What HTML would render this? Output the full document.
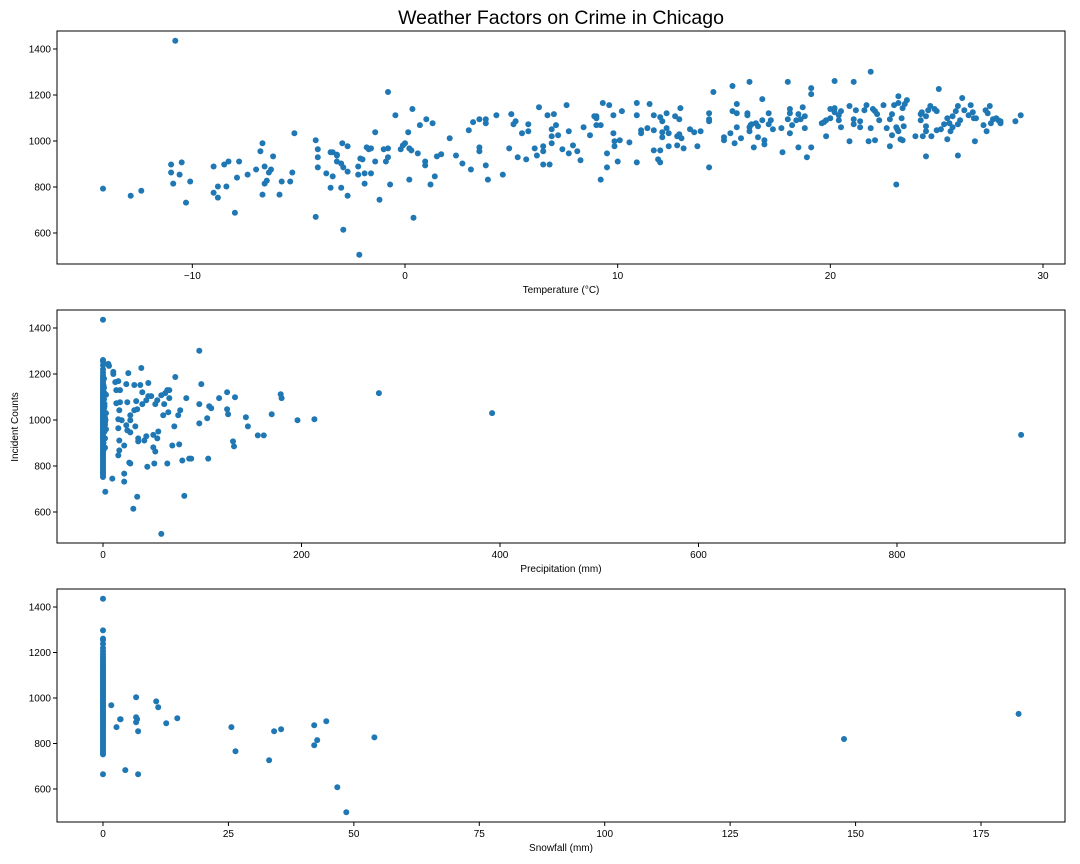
<!DOCTYPE html>
<html><head><meta charset="utf-8"><style>
html,body{margin:0;padding:0;background:#fff;}
svg{display:block;font-family:"Liberation Sans",sans-serif;}
</style></head><body>
<svg id="chart" width="1080" height="864" viewBox="0 0 1080 864" xmlns="http://www.w3.org/2000/svg">
<rect width="1080" height="864" fill="#fff"/>
<text x="561" y="24" text-anchor="middle" font-size="19.5">Weather Factors on Crime in Chicago</text>
<text transform="translate(18,427) rotate(-90)" text-anchor="middle" font-size="10">Incident Counts</text>
</svg>
<script>
const tempVals=[-14.2,-12.9,-12.4,-10.8,-11.0,-11.0,-10.9,-10.5,-10.6,-10.3,-10.1,-9.0,-9.0,-8.8,-8.8,-8.5,-8.4,-8.3,-8.0,-7.9,-7.8,-7.4,-7.0,-6.8,-6.7,-6.7,-6.6,-6.6,-6.5,-6.4,-6.3,-6.2,-5.9,-5.8,-5.4,-5.3,-5.2,-4.2,-4.2,-4.1,-4.1,-4.1,-3.7,-3.5,-3.5,-3.4,-3.4,-3.2,-3.2,-3.2,-3.0,-2.95,-3.0,-2.9,-2.9,-2.7,-2.7,-2.7,-2.2,-2.2,-2.15,-2.1,-2.0,-1.9,-1.9,-1.8,-1.7,-1.6,-1.6,-1.4,-1.4,-1.2,-1.0,-0.9,-0.8,-0.8,-0.8,-0.7,-0.45,
-0.2,-0.1,0.0,0.15,0.2,0.3,0.2,0.35,0.4,0.6,0.7,0.95,0.95,1.0,1.2,1.3,1.4,1.5,1.7,2.1,2.4,2.7,3.0,3.1,3.2,3.5,3.5,3.5,3.8,3.8,3.8,3.9,4.3,4.6,4.9,5.0,5.1,5.2,5.3,5.5,5.7,5.8,5.8,6.1,6.2,6.3,6.5,6.5,6.5,6.7,6.8,6.9,6.9,6.9,7.0,7.1,7.2,7.4,7.6,7.7,7.7,7.9,8.1,8.25,8.4,8.7,8.9,9.0,9.0,9.0,9.2,9.2,9.3,9.5,9.5,9.6,9.8,9.8,9.85,9.85,10.0,10.1,10.2,10.55,10.9,10.9,10.9,11.1,11.1,11.4,11.5,11.7,11.7,11.7,11.9,12.0,12.0,12.0,12.1,12.1,12.1,12.3,12.3,12.4,12.4,12.7,12.8,12.8,12.9,12.9,12.95,13.0,13.1,13.4,13.6,13.75,13.9,14.3,14.3,14.3,14.3,14.5,15.0,15.0,15.3,
15.4,15.4,15.5,15.6,15.6,15.6,15.8,16.1,16.1,16.2,16.2,16.2,16.25,16.3,16.4,16.5,16.6,16.6,16.8,16.8,16.9,16.9,17.1,17.1,17.2,17.3,17.7,17.75,18.0,18.0,18.1,18.1,18.1,18.2,18.4,18.5,18.5,18.6,18.7,18.8,18.8,18.9,19.1,19.1,19.1,19.6,19.7,19.8,19.8,20.0,20.0,20.2,20.2,20.2,20.4,20.4,20.5,20.5,20.9,20.9,21.1,21.1,21.1,21.2,21.4,21.4,21.6,21.7,21.8,21.9,21.9,22.0,22.1,22.1,22.2,22.3,22.5,22.65,22.8,22.8,22.9,22.9,23.0,23.1,23.1,23.15,23.2,23.2,23.2,23.3,23.35,23.4,23.4,23.45,23.5,23.6,24.0,24.25,24.25,24.3,24.35,24.5,24.5,24.5,24.5,24.6,24.7,24.75,24.9,25.0,25.0,25.1,25.2,25.35,25.5,25.5,25.6,25.65,25.75,25.75,25.9,26.0,26.0,26.0,26.1,26.2,26.3,26.5,26.6,26.7,26.75,26.8,26.85,27.2,27.3,27.35,27.4,27.5,27.55,27.65,27.8,27.9,28.0,28.0,28.7,28.95];
const tempCounts=[793,762,784,1436,898,863,815,907,854,732,824,889,775,802,754,898,802,911,688,841,911,854,876,955,990,767,889,815,828,863,876,933,767,824,824,863,1034,1003,670,964,929,885,859,951,797,846,951,937,911,941,902,990,797,614,885,867,762,977,889,854,505,924,920,859,815,972,964,859,968,1038,911,745,964,911,1213,929,968,811,1112,
964,981,990,1038,968,959,832,1139,666,946,1069,911,894,1095,811,1077,846,933,942,1012,937,902,1047,876,1082,1095,972,955,1095,1077,894,832,1112,854,968,1117,1073,1086,929,1034,920,1042,1073,968,937,1147,955,977,898,1112,898,1051,1021,990,1117,1069,1025,964,1156,946,1042,981,955,916,1060,1025,1108,1099,1108,1069,1069,832,1165,946,885,1156,1112,1034,999,977,911,1003,1130,994,1165,1112,907,1034,1047,1056,1161,1047,1112,959,920,1104,959,907,1038,1086,1016,1121,1056,1034,977,1108,981,1021,1095,1029,1143,1012,968,1051,1038,977,1042,1095,1086,1121,885,1213,1003,1016,1034,
1239,1130,990,1161,1121,1060,1012,1121,1112,1257,1042,1060,1069,1073,972,1077,1064,1016,1090,1182,1003,985,1073,1121,1090,1051,1056,951,1257,1095,1034,1139,1121,1069,1090,1117,972,1095,1147,1108,1056,929,1204,1230,972,1077,1082,1021,1090,1099,1139,1143,1261,1125,1090,1112,1060,1130,1152,999,1257,1073,1095,1134,1060,1086,1134,1156,999,1301,1056,1139,1003,1130,1117,1090,1156,1056,1095,977,1025,1117,1156,1060,811,1051,1195,1165,1042,1008,1099,1143,1003,1064,1161,1178,1021,1117,1090,1125,1021,1064,1042,933,1108,1134,1152,1021,1139,1130,1047,1226,1051,1073,1099,1008,1077,1042,1060,1108,1130,1152,937,1073,1090,1187,1134,1112,1156,1125,1099,999,1099,1069,1134,1042,1121,1152,1077,1095,1099,1090,1086,1077,1086,1112];
const zeroCounts=[752,760,768,775,783,790,798,805,812,820,828,836,845,852,860,866,873,880,887,895,902,908,915,921,928,934,941,947,953,960,966,972,978,985,991,997,1003,1009,1016,1022,1028,1035,1041,1047,1054,1060,1066,1073,1079,1086,1092,1099,1105,1112,1118,1125,1131,1138,1145,1152,1160,1168,1176,1185,1195,1207,1220,1238,1255,1261,1436];
const precipVals=[2.3,5.3,6,9.4,10.4,10.4,12.4,15.4,13.4,17.1,17.1,13.4,16.4,15.4,18.8,15.4,16.4,15.4,16.4,21.4,21.4,21.4,23.5,23.5,24.5,24.5,25.5,27.5,27.5,26.5,27.5,27.5,30.5,31.5,31.5,32.5,33.5,34.5,34.5,35.5,35.5,37.6,38.6,39.6,39.6,41.6,43.6,43.6,44.6,45.6,45.6,48.6,50.7,50.7,51.7,52.7,52.7,54.7,54.7,55.7,58.7,58.7,60.7,61.7,62.7,64.8,64.8,66.8,66.8,65.8,69.8,71.8,72.8,75.8,76.8,77.8,79.9,81.9,83.9,86.9,88.9,97,97,97,99,105,106,107,109,117,125,125,126,131,132,133,144,146,156,162,170,179,180,196,213,278,392,925,
1,1.5,2,3,1,2,0.5,1.5,3,2,1,2.5,0.5,1,3,2,1.5,1,2,0.5];
const precipCounts=[688,1244,1235,745,1209,1200,1165,1169,1130,1130,1077,1073,1042,1003,999,964,911,846,868,889,767,732,1156,977,1077,955,1204,999,946,815,811,1021,614,1152,1042,972,1082,666,1047,920,907,1152,1226,1121,1069,911,1086,929,797,1161,1104,1104,935,881,811,1069,863,1086,920,950,505,1108,1021,1069,1117,1130,811,1130,1095,1034,889,972,1187,1021,894,1042,824,670,1095,832,832,1301,1069,985,1156,1008,832,1060,1051,1095,1121,1047,1025,907,885,1099,1012,972,933,933,1025,1112,1095,999,1003,1117,1030,935,
1090,1060,990,960,1120,1010,1150,950,1030,880,1180,1000,870,1050,1110,920,1070,1140,980,900];
const snowVals=[1.65,2.7,3.4,3.5,4.45,6.6,6.6,6.8,6.6,7.0,7.0,10.6,11.0,12.6,14.8,25.6,26.4,33.1,34.1,35.5,42.1,42.1,42.7,44.5,46.7,48.5,54.1,147.7,182.5];
const snowCounts=[968,872,907,907,683,1003,915,907,893,854,665,985,959,889,911,872,766,726,854,863,880,792,815,898,608,498,827,820,930];
const extraZeroSnowCounts=[1297,665];
const tempTicks=[-10,0,10,20,30];
const precipTicks=[0,200,400,600,800];
const snowTicks=[0,25,50,75,100,125,150,175];
const countTicks=[600,800,1000,1200,1400];

const NS='http://www.w3.org/2000/svg';
const svg=document.getElementById('chart');
function mk(tag,attrs,parent){const e=document.createElementNS(NS,tag);for(const k in attrs)e.setAttribute(k,attrs[k]);(parent||svg).appendChild(e);return e;}
function lin(d0,d1,r0,r1){return v=>r0+(v-d0)*(r1-r0)/(d1-d0);}
const L=57,R=1065;
const panels=[
 {name:'temperature',top:31,bot:264,x:lin(0,30,405,1043),y:lin(1000,1400,141,49),xt:tempTicks,xlab:'Temperature (°C)',fmt:v=>v<0?'\u2212'+(-v):String(v),xs:tempVals,ys:tempCounts},
 {name:'precipitation',top:310,bot:543,x:lin(0,800,103,897),y:lin(1000,1400,420,328),xt:precipTicks,xlab:'Precipitation (mm)',fmt:String,xs:precipVals.concat(zeroCounts.map(()=>0)),ys:precipCounts.concat(zeroCounts)},
 {name:'snowfall',top:589,bot:822,x:lin(0,175,103,981),y:lin(1000,1400,698,607),xt:snowTicks,xlab:'Snowfall (mm)',fmt:String,xs:snowVals.concat(zeroCounts.map(()=>0)).concat(extraZeroSnowCounts.map(()=>0)),ys:snowCounts.concat(zeroCounts).concat(extraZeroSnowCounts)}
];
panels.forEach(p=>{
 const g=mk('g',{});
 
 
 p.xs.forEach((xv,i)=>{
  const c=mk('circle',{cx:p.x(xv).toFixed(1),cy:p.y(p.ys[i]).toFixed(1),r:3,fill:'#1f77b4'},g);
  
  
 });
 const fr=mk('rect',{x:L,y:p.top,width:R-L,height:p.bot-p.top,fill:'none',stroke:'#000','stroke-width':1},g);
 
 
 p.xt.forEach(t=>{
  const px=p.x(t);
  mk('line',{x1:px,x2:px,y1:p.bot,y2:p.bot+4,stroke:'#000'},g);
  const tx=mk('text',{x:px,y:p.bot+15,'text-anchor':'middle','font-size':10},g);
  tx.textContent=p.fmt(t);
  
  
 });
 countTicks.forEach(t=>{
  const py=p.y(t);
  mk('line',{x1:L-4,x2:L,y1:py,y2:py,stroke:'#000'},g);
  const tx=mk('text',{x:L-6,y:py+3.5,'text-anchor':'end','font-size':10},g);
  tx.textContent=String(t);
  
  
 });
 const xl=mk('text',{x:(L+R)/2,y:p.bot+29,'text-anchor':'middle','font-size':10},g);
 xl.textContent=p.xlab;
 
 
});
</script>
</body></html>
